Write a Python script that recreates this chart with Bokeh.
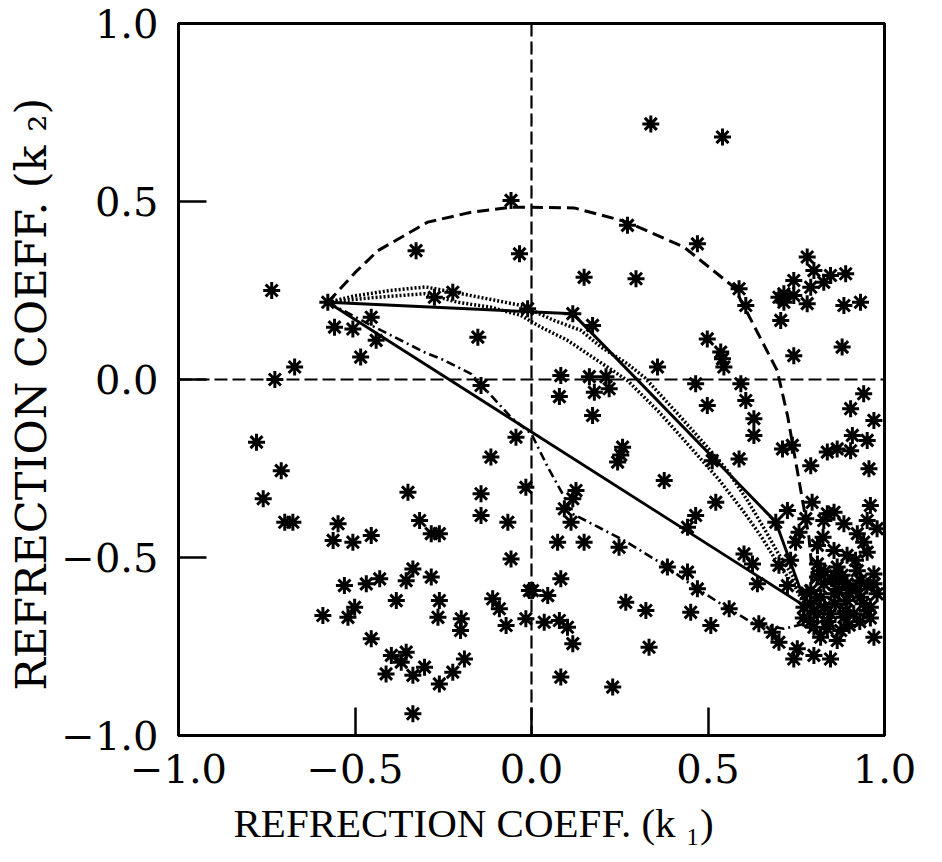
from bokeh.plotting import figure
from bokeh.models import Span, Title, FixedTicker, CustomJSTickFormatter, Range1d
from bokeh.embed import file_html
from bokeh.resources import INLINE

# ---------------- data ----------------
tick_values = [-1.0, -0.5, 0.0, 0.5, 1.0]
x_title = "REFRECTION COEFF. (k \u2081)"
y_title = "REFRECTION COEFF. (k \u2082)"

# observed reflection coefficients (k1, k2)
k1_obs = [
    -0.736, -0.577, -0.327, -0.058, -0.034, -0.275, -0.223, -0.454, -0.558, -0.506,
    -0.44, -0.152, -0.484, -0.671, -0.727, -0.011,
    0.338, 0.541, 0.272, 0.47, 0.149, 0.296, 0.781, 0.80, 0.847, 0.89,
    0.743, 0.791, 0.828, 0.715, 0.701, 0.743, 0.715, 0.781, 0.885, 0.932,
    0.706, 0.743, 0.88, 0.588, 0.607, 0.498, 0.536, 0.541, 0.545, 0.357,
    0.117, 0.173, 0.083, 0.164, 0.211,
    -0.143, -0.779, -0.709, -0.76, -0.699, -0.676, -0.548, -0.562, -0.506, -0.454,
    -0.35, -0.317, -0.284, -0.261, -0.143, -0.143, -0.044, -0.115, -0.016, -0.067,
    -0.058, -0.006, -0.11, -0.091, -0.072, -0.016, -0.336, -0.355, -0.284, -0.43,
    -0.468, -0.53, -0.501, -0.52, -0.591, -0.383, -0.261, -0.265, -0.199, -0.201,
    -0.454, -0.397, -0.355, -0.369, -0.412, -0.336, -0.303, -0.261, -0.223, -0.19,
    -0.336,
    0.079, 0.178, 0.22, 0.173, 0.465, 0.593, 0.607, 0.498, 0.63, 0.63,
    0.941, 0.904, 0.97, 0.909, 0.951, 0.838, 0.866, 0.904, 0.711, 0.739,
    0.791, 0.956, 0.258, 0.253, 0.244, 0.376, 0.588, 0.512, 0.126, 0.117,
    0.093, 0.112, 0.522, 0.465, 0.442, 0.074, 0.149, 0.248, 0.602, 0.626,
    0.701, 0.725, 0.795, 0.777, 0.692, 0.758, 0.748, 0.838, 0.857, 0.828,
    0.885, 0.96, 0.951, 0.979, 0.923, 0.941, 0.951, 0.826, 0.81, 0.857,
    0.894, 0.918, 0.734, 0.81, 0.819, 0.866, 0.923, 0.97, 0.64, 0.725,
    0.56, 0.644, 0.682, 0.701, 0.753, 0.743, 0.80, 0.847, 0.97, 0.866,
    0.819, 0.81, 0.861, 0.932, 0.97, 0.791, 0.819, 0.857, 0.894, 0.932,
    0.96, 0.81, 0.847, 0.885, 0.913, 0.951, 0.80, 0.838, 0.876, 0.791,
    0.772, 0.828, 0.894, 0.979, 0.508, 0.451, 0.47, 0.442, 0.385, 0.324,
    0.267, 0.333, 0.23, 0.083, 0.083, 0.003, 0.046, 0.036, 0.079, 0.102,
    0.117,
    0.78, 0.80, 0.83, 0.86, 0.89, 0.77, 0.79, 0.84, 0.87, 0.90,
    0.92, 0.94, 0.90, 0.83, 0.85, 0.88, 0.95, 0.93, 0.96,
]
k2_obs = [
    0.25, 0.217, 0.362, 0.503, 0.353, 0.231, 0.245, 0.175, 0.147, 0.142,
    0.11, 0.119, 0.063, 0.035, 0.0, 0.199,
    0.718, 0.681, 0.433, 0.381, 0.287, 0.283, 0.344, 0.306, 0.292, 0.297,
    0.278, 0.259, 0.273, 0.241, 0.231, 0.236, 0.217, 0.213, 0.208, 0.217,
    0.166, 0.067, 0.091, 0.255, 0.208, 0.114, 0.077, 0.058, 0.035, 0.035,
    0.185, 0.152, 0.011, 0.008, 0.008,
    -0.017, -0.176, -0.256, -0.335, -0.401, -0.401, -0.405, -0.452, -0.457, -0.438,
    -0.317, -0.396, -0.433, -0.433, -0.321, -0.382, -0.162, -0.218, -0.303, -0.401,
    -0.504, -0.593, -0.616, -0.644, -0.691, -0.672, -0.532, -0.565, -0.555, -0.56,
    -0.574, -0.579, -0.64, -0.668, -0.663, -0.621, -0.621, -0.668, -0.672, -0.705,
    -0.728, -0.775, -0.766, -0.794, -0.827, -0.831, -0.808, -0.855, -0.822, -0.785,
    -0.939,
    -0.048, -0.036, -0.026, -0.101, -0.012, -0.012, -0.059, -0.073, -0.11, -0.157,
    -0.04, -0.082, -0.115, -0.157, -0.171, -0.204, -0.195, -0.2, -0.195, -0.185,
    -0.242, -0.251, -0.19, -0.212, -0.232, -0.284, -0.223, -0.228, -0.312, -0.335,
    -0.363, -0.401, -0.345, -0.382, -0.415, -0.457, -0.457, -0.471, -0.49, -0.518,
    -0.522, -0.368, -0.345, -0.391, -0.401, -0.429, -0.457, -0.377, -0.373, -0.396,
    -0.405, -0.354, -0.396, -0.419, -0.433, -0.457, -0.485, -0.443, -0.466, -0.48,
    -0.494, -0.508, -0.508, -0.518, -0.537, -0.527, -0.537, -0.546, -0.574, -0.579,
    -0.644, -0.686, -0.71, -0.738, -0.756, -0.785, -0.775, -0.785, -0.724, -0.733,
    -0.724, -0.555, -0.551, -0.565, -0.574, -0.63, -0.612, -0.602, -0.621, -0.612,
    -0.64, -0.658, -0.658, -0.668, -0.658, -0.649, -0.696, -0.70, -0.705, -0.593,
    -0.64, -0.574, -0.574, -0.602, -0.691, -0.654, -0.588, -0.541, -0.527, -0.649,
    -0.626, -0.752, -0.864, -0.836, -0.56, -0.593, -0.607, -0.682, -0.677, -0.696,
    -0.742,
    -0.60, -0.65, -0.64, -0.63, -0.65, -0.67, -0.68, -0.68, -0.59, -0.60,
    -0.59, -0.63, -0.69, -0.54, -0.56, -0.55, -0.58, -0.68, -0.67,
]

# dashed boundary curve
dash_k1 = [-0.577, -0.50, -0.435, -0.294, -0.171, -0.058, 0.0, 0.121, 0.272, 0.432,
           0.574, 0.696, 0.725, 0.753, 0.786, 0.795, 0.79]
dash_k2 = [0.217, 0.30, 0.362, 0.442, 0.47, 0.484, 0.484, 0.482, 0.442, 0.372,
           0.259, 0.025, -0.10, -0.256, -0.443, -0.537, -0.64]

# solid straight path
solid_a_k1 = [-0.577, 0.78]
solid_a_k2 = [0.217, -0.64]

# solid broken path
solid_b_k1 = [-0.577, 0.117, 0.692, 0.78]
solid_b_k2 = [0.217, 0.185, -0.40, -0.64]

# dotted paths
dot1_k1 = [-0.577, -0.50, -0.40, -0.30, -0.22, -0.10, -0.03, 0.064, 0.14, 0.197,
           0.272, 0.32, 0.414, 0.498, 0.555, 0.612, 0.66, 0.70, 0.745, 0.777]
dot1_k2 = [0.217, 0.235, 0.25, 0.26, 0.245, 0.222, 0.208, 0.166, 0.138, 0.091,
           0.044, 0.006, -0.096, -0.19, -0.256, -0.34, -0.42, -0.49, -0.56, -0.64]
dot2_k1 = [-0.577, -0.45, -0.303, -0.209, -0.115, -0.03, 0.027, 0.102, 0.159, 0.215,
           0.272, 0.36, 0.45, 0.53, 0.60, 0.65, 0.70, 0.745, 0.777]
dot2_k2 = [0.217, 0.23, 0.241, 0.217, 0.203, 0.18, 0.147, 0.11, 0.072, 0.035,
           -0.003, -0.09, -0.19, -0.28, -0.37, -0.44, -0.52, -0.58, -0.64]

# dash-dot path
dd_k1 = [-0.577, -0.454, -0.30, -0.256, -0.171, -0.058, 0.0, 0.046, 0.093, 0.112,
         0.18, 0.262, 0.385, 0.45, 0.536, 0.63, 0.715, 0.78]
dd_k2 = [0.217, 0.152, 0.075, 0.058, 0.016, -0.106, -0.153, -0.246, -0.33, -0.375,
         -0.41, -0.452, -0.527, -0.575, -0.63, -0.686, -0.70, -0.685]

# ---------------- figure ----------------
p = figure(width=942, height=862,
           x_range=Range1d(-1, 1), y_range=Range1d(-1, 1),
           output_backend="svg", toolbar_location=None,
           min_border_left=177, min_border_right=58,
           min_border_top=23, min_border_bottom=127)

p.background_fill_color = "white"
p.border_fill_color = "white"
p.grid.visible = False
p.outline_line_color = "black"
p.outline_line_width = 3

fmt = CustomJSTickFormatter(code="return (tick < 0 ? '\u2212' : '') + Math.abs(tick).toFixed(1);")
for ax in (p.xaxis[0], p.yaxis[0]):
    ax.ticker = FixedTicker(ticks=tick_values)
    ax.formatter = fmt
    ax.axis_line_color = "black"
    ax.axis_line_width = 3
    ax.major_tick_in = 28
    ax.major_tick_out = 0
    ax.major_tick_line_width = 2.5
    ax.major_tick_line_color = "black"
    ax.minor_tick_line_color = None
    ax.major_label_text_font = "DejaVu Serif"
    ax.major_label_text_font_size = "40px"
    ax.major_label_text_color = "black"
p.xaxis[0].major_label_standoff = 18
p.yaxis[0].major_label_standoff = 20

# axis titles
p.add_layout(Title(text=x_title, align="left", offset=55, standoff=24,
                   text_font="Liberation Serif", text_font_size="41px",
                   text_font_style="normal", text_color="black"), "below")
p.add_layout(Title(text=y_title, align="left", offset=45, standoff=6,
                   text_font="DejaVu Serif", text_font_size="43px",
                   text_font_style="normal", text_color="black"), "left")

# reference cross
p.add_layout(Span(location=0, dimension="height", line_color="black",
                  line_width=2.2, line_dash="13 5"))
p.add_layout(Span(location=0, dimension="width", line_color="black",
                  line_width=2.2, line_dash="13 5"))

# paths
p.line(dash_k1, dash_k2, line_color="black", line_width=3, line_dash="12 6")
p.line(solid_a_k1, solid_a_k2, line_color="black", line_width=2.8)
p.line(solid_b_k1, solid_b_k2, line_color="black", line_width=3)
p.line(dot1_k1, dot1_k2, line_color="black", line_width=3.5, line_dash="2 2")
p.line(dot2_k1, dot2_k2, line_color="black", line_width=3.5, line_dash="2 2")
p.line(dd_k1, dd_k2, line_color="black", line_width=2.6, line_dash="9 4 2 4")

# observations
p.scatter(k1_obs, k2_obs, marker="asterisk", size=17, line_color="black", line_width=3)

open("out.html", "w").write(file_html(p, INLINE))
